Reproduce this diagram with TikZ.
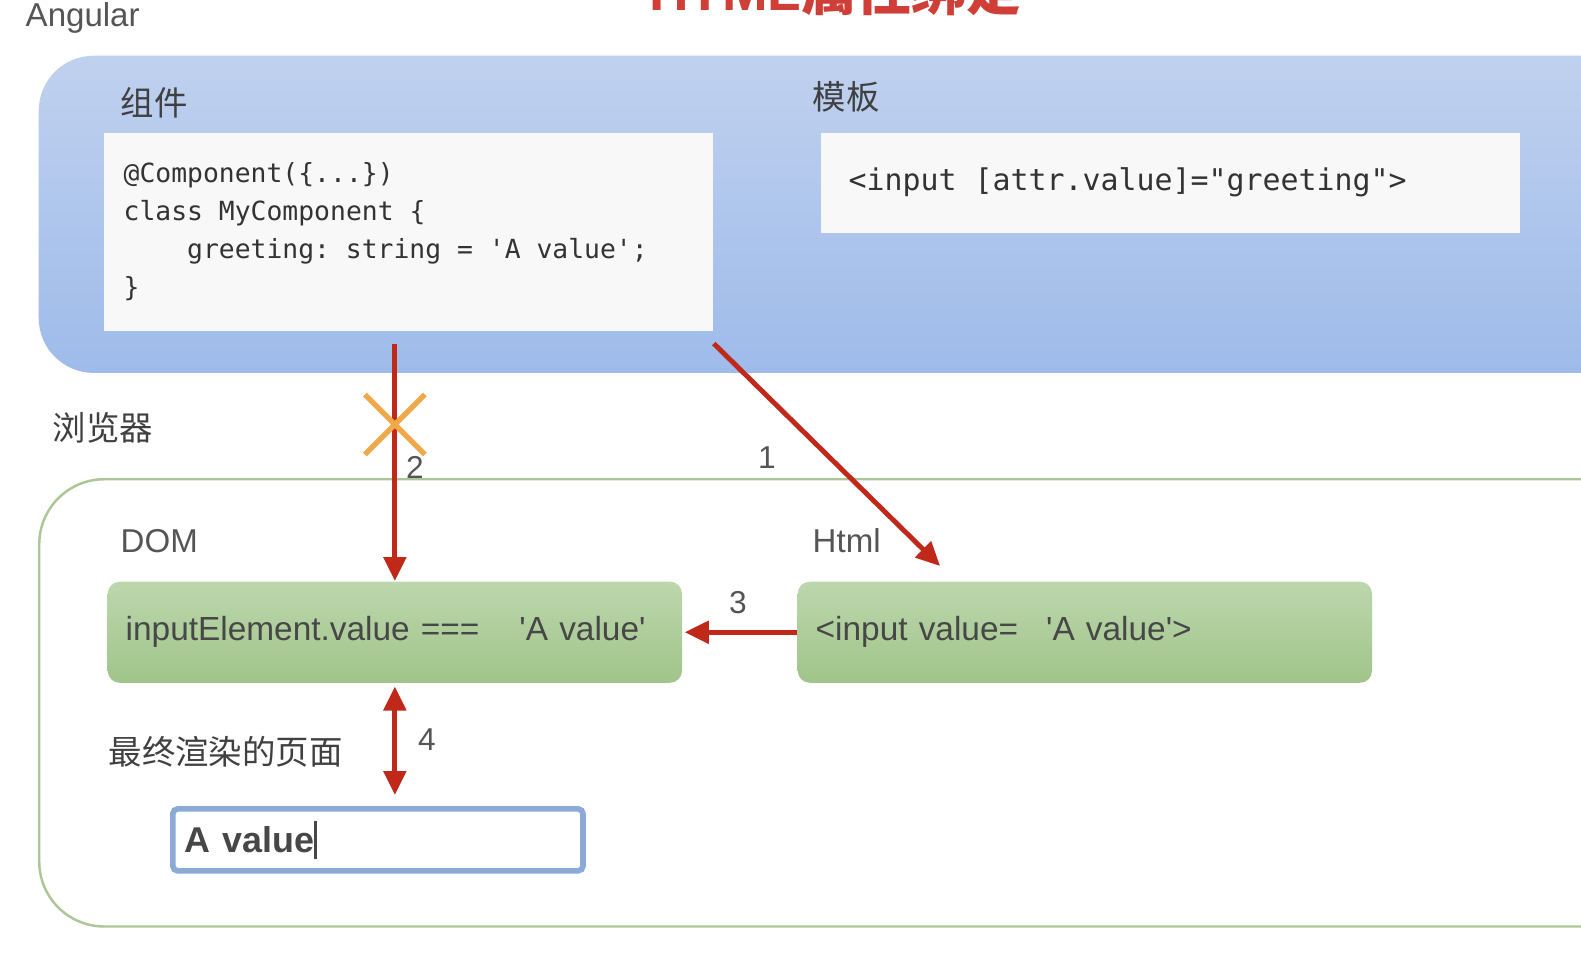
\documentclass[tikz,border=0pt]{standalone}
\usepackage{fontspec}
\setmainfont{Liberation Sans}
\setmonofont{DejaVu Sans Mono}
\newfontfamily\cjk{Noto Sans CJK SC}
\usetikzlibrary{arrows.meta, positioning, calc}
\definecolor{blueTop}{RGB}{192,209,239}
\definecolor{blueBot}{RGB}{158,187,234}
\definecolor{greenTop}{RGB}{188,215,172}
\definecolor{greenBot}{RGB}{160,196,138}
\definecolor{codeBg}{RGB}{248,248,248}
\definecolor{frameGreen}{RGB}{172,198,150}
\definecolor{arrRed}{RGB}{192,40,26}
\definecolor{crossOrange}{RGB}{240,168,72}
\definecolor{lblGray}{RGB}{85,85,85}
\definecolor{titleRed}{RGB}{208,62,56}
\definecolor{fieldBlue}{RGB}{140,170,216}
% feste Leerstelle in Monospace
\newcommand{\msp}{\hspace*{0.602em}}

\begin{document}
\begin{tikzpicture}[x=0.01cm, y=-0.01cm,
    panel/.style={rounded corners=0.55cm, top color=blueTop, bottom color=blueBot,
                  minimum width=16.3cm, minimum height=3.17cm, anchor=north west},
    frame/.style={draw=frameGreen, line width=0.7pt, rounded corners=0.65cm,
                  minimum width=16.3cm, minimum height=4.47cm, anchor=north west},
    codebox/.style={fill=codeBg, anchor=north west, inner ysep=0pt, align=left,
                    text=black!80},
    greenbox/.style={rounded corners=0.12cm, top color=greenTop, bottom color=greenBot,
                     text width=5.38cm, minimum height=1.01cm, inner xsep=0.18cm,
                     align=left, anchor=north west, text=black!72,
                     font=\fontsize{9.5}{11}\selectfont},
    lbl/.style={inner sep=0pt, anchor=west, text=lblGray, font=\fontsize{9.4}{11}\selectfont},
    cjklbl/.style={inner sep=0pt, anchor=west, text=black!75, font=\cjk\fontsize{9.5}{11}\selectfont},
    num/.style={inner sep=0pt, text=lblGray, font=\fontsize{9}{11}\selectfont},
    arr/.style={-{Triangle[length=0.24cm, width=0.22cm]}, line width=1.4pt, draw=arrRed},
    dblarr/.style={{Triangle[length=0.24cm, width=0.22cm]}-{Triangle[length=0.24cm, width=0.22cm]},
                   line width=1.4pt, draw=arrRed},
    xmark/.style={draw=crossOrange, line width=1.5pt},
    field/.style={draw=fieldBlue, line width=1.6pt, rounded corners=0.05cm, fill=white,
                  minimum width=4.1cm, minimum height=0.62cm, anchor=north west,
                  text width=3.86cm, inner xsep=0.12cm, align=left, text=black!72,
                  font=\bfseries\fontsize{10.2}{12}\selectfont}
  ]
  \useasboundingbox (0,0) rectangle (1581,953);
  \clip (0,0) rectangle (1581,953);

  % Titel (oben abgeschnitten)
  \node[anchor=base, inner sep=0pt, text=titleRed, font=\bfseries\fontsize{15.6}{18}\selectfont]
    (title) at (835,10) {HTML{\cjk 属性绑定}};
  \node[lbl] (lblAngular) at (25,18) {Angular};

  % Angular-Bereich
  \node[panel] (angular) at (38,55) {};
  \node[cjklbl] (lblComp) at (120,103) {组件};
  \node[cjklbl] (lblTpl) at (812,97) {模板};
  \node[codebox, text width=5.69cm, minimum height=1.98cm, inner xsep=0.2cm,
        font=\ttfamily\fontsize{7.5}{10.8}\selectfont] (comp) at (103,132)
    {@Component(\{...\})\\
     class\msp MyComponent\msp\{\\
     \msp\msp\msp\msp greeting:\msp string\msp=\msp\textquotesingle A\msp value\textquotesingle;\\
     \}};
  \node[codebox, text width=6.43cm, minimum height=1.0cm, inner xsep=0.28cm,
        font=\ttfamily\fontsize{8.5}{10}\selectfont] (tpl) at (820,132)
    {<input\msp[attr.value]=\textquotedbl greeting\textquotedbl>};

  % Browser-Bereich
  \node[cjklbl] (lblBrowser) at (52,428) {浏览器};
  \node[frame] (browser) at (38,478) {};
  \node[lbl] (lblDom) at (120,541) {DOM};
  \node[lbl] (lblHtml) at (812,541) {Html};
  \node[greenbox] (dom) at (107,581)
    {inputElement.value ===\hspace{0.4cm}\textquotesingle A value\textquotesingle};
  \node[greenbox] (html) at (797,581)
    {<input value=\hspace{0.28cm}\textquotesingle A value\textquotesingle>};
  \node[cjklbl] (lblPage) at (108,752) {最终渲染的页面};
  \node[field] (page) at (170,806)
    {A value\rule[-0.18em]{0.7pt}{1.05em}};

  % Verbindungen
  \draw[arr] ([yshift=-0.12cm]comp.south east) -- ([xshift=1.43cm, yshift=0.15cm]html.north west);
  \draw[arr, shorten <=0.12cm] (dom.north |- comp.south) -- (dom.north);
  \draw[xmark] ($(dom.north |- comp.south)+(-30,63)$) -- ++(60,60);
  \draw[xmark] ($(dom.north |- comp.south)+(-30,123)$) -- ++(60,-60);
  \draw[arr] (html.west) -- ([xshift=0.02cm]dom.east);
  \draw[dblarr, shorten <=0.03cm, shorten >=0.11cm] (dom.south) -- (dom.south |- page.north);

  % Nummern
  \node[num] (n1) at (767,458) {1};
  \node[num] (n2) at (415,467) {2};
  \node[num] (n3) at (738,603) {3};
  \node[num] (n4) at (427,740) {4};
\end{tikzpicture}
\end{document}
